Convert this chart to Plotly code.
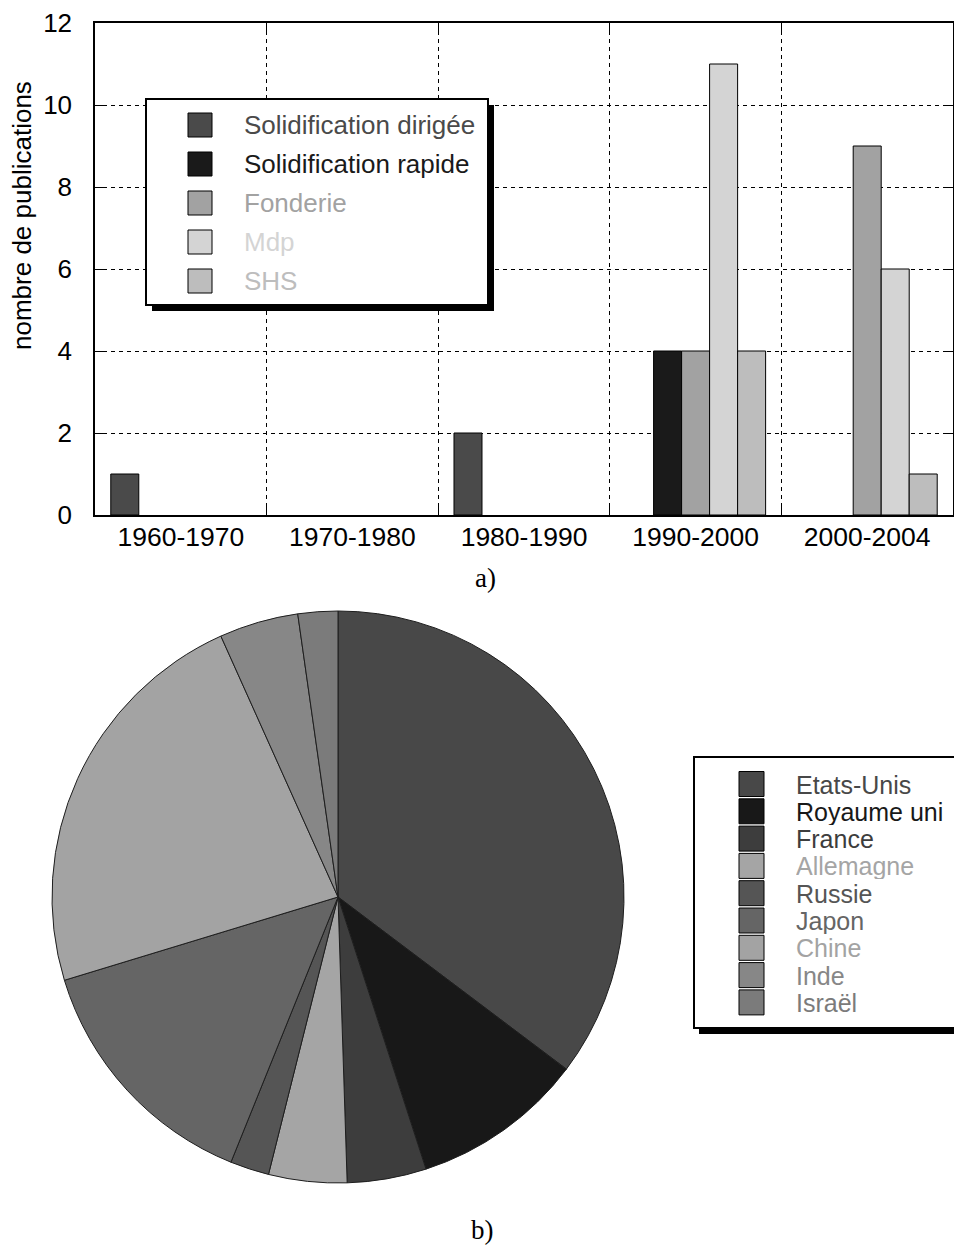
import plotly.graph_objects as go

W, H = 962, 1251
PAGE_OFFSET = 8  # the page body margin shifts the whole figure

# a) publications per decade and technique
periods = ['1960-1970', '1970-1980', '1980-1990', '1990-2000', '2000-2004']
techniques = ['Solidification dirigée', 'Solidification rapide', 'Fonderie', 'Mdp', 'SHS']
technique_colors = ['#4a4a4a', '#1a1a1a', '#a2a2a2', '#d4d4d4', '#bdbdbd']
sol_dirigee = [1, 0, 2, 0, 0]
sol_rapide = [0, 0, 0, 4, 0]
fonderie = [0, 0, 0, 4, 9]
mdp = [0, 0, 0, 11, 6]
shs = [0, 0, 0, 4, 1]
y_ticks = [0, 2, 4, 6, 8, 10, 12]

# b) share of publications per country (%)
countries = ['Etats-Unis', 'Royaume uni', 'France', 'Allemagne', 'Russie',
             'Japon', 'Chine', 'Inde', 'Israël']
country_share = [35.3, 9.75, 4.47, 4.42, 2.2, 14.2, 23.0, 4.47, 2.25]
country_colors = ['#484848', '#181818', '#3d3d3d', '#a5a5a5', '#555555',
                  '#656565', '#a3a3a3', '#878787', '#7b7b7b']


def px_x(x):
    return (x - PAGE_OFFSET) / W


def px_y(y):
    return 1 - (y - PAGE_OFFSET) / H


fig = go.Figure()
series = [sol_dirigee, sol_rapide, fonderie, mdp, shs]
for name, vals, col in zip(techniques, series, technique_colors):
    # empty cells are left out so no flat bar sits on the axis
    fig.add_trace(go.Bar(x=periods, y=[v if v else None for v in vals], name=name,
                         marker_color=col, marker_line_color='black', marker_line_width=1,
                         showlegend=False))

fig.add_trace(go.Pie(labels=countries, values=country_share, sort=False,
                     direction='clockwise', rotation=0, textinfo='none',
                     marker=dict(colors=country_colors, line=dict(color='#1e1e1e', width=1)),
                     domain=dict(x=[px_x(52), px_x(624)], y=[px_y(1183), px_y(611)]),
                     showlegend=False, hoverinfo='label+percent'))

tick_font = dict(family='Liberation Sans, Arial', size=26, color='black')
fig.update_layout(
    width=W, height=H, margin=dict(l=0, r=0, t=0, b=0, autoexpand=False),
    paper_bgcolor='white', plot_bgcolor='white',
    barmode='group', bargap=0.184, bargroupgap=0,
    font=tick_font,
    xaxis=dict(domain=[px_x(95), px_x(953)], type='category', tickson='boundaries',
               automargin=False,
               showline=True, mirror='ticks', linecolor='black', linewidth=1.5,
               ticks='inside', ticklen=10, tickcolor='black',
               showgrid=True, gridcolor='black', gridwidth=1, griddash='4px,4px',
               tickfont=dict(family='Liberation Sans, Arial', size=26.5, color='black'),
               ticklabelstandoff=-3),
    yaxis=dict(domain=[px_y(515), px_y(23)], range=[0, 12], tickvals=y_ticks,
               automargin=False,
               showline=True, mirror='ticks', linecolor='black', linewidth=1.5,
               ticks='inside', ticklen=10, tickcolor='black',
               showgrid=True, gridcolor='black', gridwidth=1, griddash='4px,4px',
               zeroline=False, tickfont=tick_font, ticklabelstandoff=16),
)

shapes = []
annotations = []

# y axis title (sits above the middle of the axis in the original)
annotations.append(dict(xref='paper', yref='paper', x=px_x(22), y=px_y(216),
                        xanchor='center', yanchor='middle', showarrow=False, textangle=-90,
                        text='nombre de publications',
                        font=dict(family='Liberation Sans, Arial', size=26, color='black')))

# legend of the bar chart, drawn as a framed box with a drop shadow
shapes.append(dict(type='rect', xref='paper', yref='paper', layer='above',
                   x0=px_x(152), x1=px_x(494), y0=px_y(311), y1=px_y(105),
                   fillcolor='black', line=dict(width=0)))
shapes.append(dict(type='rect', xref='paper', yref='paper', layer='above',
                   x0=px_x(146), x1=px_x(488), y0=px_y(305), y1=px_y(99),
                   fillcolor='white', line=dict(color='black', width=2)))
for i, (name, col) in enumerate(zip(techniques, technique_colors)):
    cy = 125 + 39 * i
    shapes.append(dict(type='rect', xref='paper', yref='paper', layer='above',
                       x0=px_x(188), x1=px_x(212), y0=px_y(cy + 12), y1=px_y(cy - 12),
                       fillcolor=col, line=dict(color='black', width=1)))
    annotations.append(dict(xref='paper', yref='paper', x=px_x(242), y=px_y(cy),
                            xanchor='left', yanchor='middle', showarrow=False,
                            text=name, font=dict(family='Liberation Sans, Arial',
                                                 size=26, color=col)))

# legend of the pie chart (rows are packed tightly, as in the original)
shapes.append(dict(type='rect', xref='paper', yref='paper', layer='above',
                   x0=px_x(699), x1=px_x(990), y0=px_y(1034), y1=px_y(763),
                   fillcolor='black', line=dict(width=0)))
shapes.append(dict(type='rect', xref='paper', yref='paper', layer='above',
                   x0=px_x(694), x1=px_x(985), y0=px_y(1028), y1=px_y(757),
                   fillcolor='white', line=dict(color='black', width=2)))
for i, (name, col) in enumerate(zip(countries, country_colors)):
    cy = 784 + 27.3 * i
    shapes.append(dict(type='rect', xref='paper', yref='paper', layer='above',
                       x0=px_x(739), x1=px_x(764), y0=px_y(cy + 12.5), y1=px_y(cy - 12.5),
                       fillcolor=col, line=dict(color='black', width=1)))
    annotations.append(dict(xref='paper', yref='paper', x=px_x(795), y=px_y(cy),
                            xanchor='left', yanchor='middle', showarrow=False,
                            height=27, valign='middle', borderpad=0,
                            text=name, font=dict(family='Liberation Sans, Arial',
                                                 size=25, color=col)))

# panel captions
annotations.append(dict(xref='paper', yref='paper', x=px_x(485), y=px_y(578),
                        xanchor='center', yanchor='middle', showarrow=False, text='a)',
                        font=dict(family='Liberation Serif, Times New Roman', size=27, color='black')))
annotations.append(dict(xref='paper', yref='paper', x=px_x(482), y=px_y(1230),
                        xanchor='center', yanchor='middle', showarrow=False, text='b)',
                        font=dict(family='Liberation Serif, Times New Roman', size=27, color='black')))

fig.update_layout(shapes=shapes, annotations=annotations)

fig.write_html("out.html")
